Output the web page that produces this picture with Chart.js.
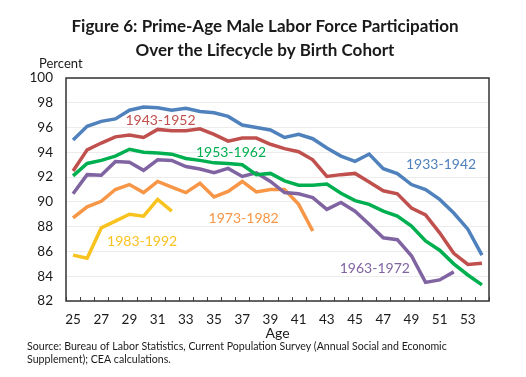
<!DOCTYPE html>
<html>
<head>
<meta charset="utf-8">
<script src="https://cdn.jsdelivr.net/npm/chart.js@4/dist/chart.umd.min.js"></script>
<style>
  body { margin: 0; background: #fff; }
  #wrap { position: relative; width: 526px; height: 377px; }
</style>
</head>
<body>
<div id="wrap"><canvas id="myChart"></canvas></div>
<script>
// ages on the x axis
const ages = [25, 26, 27, 28, 29, 30, 31, 32, 33, 34, 35, 36, 37, 38, 39,
  40, 41, 42, 43, 44, 45, 46, 47, 48, 49, 50, 51, 52, 53, 54];

// participation rate by birth cohort (percent)
const c1933 = [95.0, 96.1, 96.5, 96.7, 97.4, 97.65, 97.6, 97.4, 97.55, 97.3,
  97.2, 96.9, 96.2, 96.0, 95.8, 95.2, 95.45, 95.1, 94.35, 93.7,
  93.27, 93.86, 92.68, 92.28, 91.4, 91.0, 90.2, 89.1, 87.8, 85.7];
const c1943 = [92.5, 94.2, 94.75, 95.25, 95.4, 95.2, 95.85, 95.75, 95.75, 95.9,
  95.45, 94.9, 95.15, 95.15, 94.65, 94.3, 94.05, 93.4, 92.05, 92.2,
  92.3, 91.6, 90.9, 90.65, 89.5, 88.95, 87.5, 85.85, 84.95, 85.05];
const c1953 = [92.1, 93.1, 93.35, 93.7, 94.25, 94.0, 93.95, 93.85, 93.5, 93.35,
  93.15, 93.1, 93.0, 92.2, 92.3, 91.7, 91.35, 91.35, 91.45, 90.7,
  90.1, 89.8, 89.25, 88.85, 88.05, 86.85, 86.1, 85.0, 84.1, 83.3];
const c1963 = [90.65, 92.2, 92.15, 93.25, 93.2, 92.55, 93.4, 93.35, 92.85, 92.65,
  92.35, 92.7, 92.05, 92.35, 91.65, 90.75, 90.65, 90.35, 89.4, 89.95,
  89.25, 88.2, 87.1, 86.95, 85.65, 83.5, 83.7, 84.35];
const c1973 = [88.7, 89.6, 90.05, 91.0, 91.4, 90.75, 91.65, 91.2, 90.75, 91.5,
  90.4, 90.85, 91.65, 90.8, 91.0, 91.0, 89.8, 87.65];
const c1983 = [85.7, 85.45, 87.9, 88.45, 89.0, 88.85, 90.2, 89.25];

const cohortNames = ["1933-1942", "1943-1952", "1953-1962", "1963-1972", "1973-1982", "1983-1992"];
const colors = ["#4F81BD", "#C0504D", "#00B050", "#8064A2", "#F79646", "#F9C31F"];
const series = [c1933, c1943, c1953, c1963, c1973, c1983];

// where each cohort label is centred (age, percent)
const labelSpots = [
  [51.1, 93.0], [31.2, 96.6], [36.2, 93.95], [46.4, 84.6], [37.1, 88.7], [29.9, 86.8]
];

const FONT = "Lato, 'Open Sans', sans-serif";
const ink = "#1a1a1a";

const decorPlugin = {
  id: "decor",
  beforeDatasetsDraw(chart) {
    const { ctx, chartArea: a, scales } = chart;
    const x = scales.x;
    ctx.save();
    // inward tick marks at category boundaries
    ctx.strokeStyle = "#404040";
    ctx.lineWidth = 1;
    for (let i = 0; i <= ages.length; i++) {
      const px = Math.round(x.getPixelForValue(i - 0.5)) + 0.5;
      ctx.beginPath();
      ctx.moveTo(px, a.bottom);
      ctx.lineTo(px, a.bottom - 4);
      ctx.stroke();
    }
    // plot frame
    ctx.strokeStyle = "#333";
    ctx.lineWidth = 1.5;
    ctx.strokeRect(a.left, a.top, a.right - a.left, a.bottom - a.top);
    ctx.restore();
  },
  afterDraw(chart) {
    const { ctx, chartArea: a, scales } = chart;
    ctx.save();
    // title
    ctx.fillStyle = ink;
    ctx.textAlign = "center";
    ctx.textBaseline = "middle";
    ctx.font = "bold 17px " + FONT;
    ctx.fillText("Figure 6: Prime-Age Male Labor Force Participation", 265, 27);
    ctx.fillText("Over the Lifecycle by Birth Cohort", 265, 51);
    // axis captions
    ctx.font = "13px " + FONT;
    ctx.textAlign = "left";
    ctx.fillText("Percent", 39, 64);
    ctx.textAlign = "center";
    ctx.font = "14px " + FONT;
    ctx.fillText("Age", (a.left + a.right) / 2, 333);
    // source note
    ctx.textAlign = "left";
    ctx.font = "10.6px " + FONT;
    ctx.fillText("Source: Bureau of Labor Statistics, Current Population Survey (Annual Social and Economic", 27, 347);
    ctx.fillText("Supplement); CEA calculations.", 27, 360);
    // cohort labels
    ctx.textAlign = "center";
    ctx.font = "14px " + FONT;
    labelSpots.forEach(([age, val], i) => {
      ctx.fillStyle = colors[i];
      const px = scales.x.getPixelForValue(age - ages[0]);
      ctx.fillText(cohortNames[i], px, scales.y.getPixelForValue(val));
    });
    ctx.restore();
  }
};

new Chart(document.getElementById("myChart"), {
  type: "line",
  data: {
    labels: ages,
    datasets: series.map((s, i) => ({
      label: cohortNames[i],
      data: s,
      borderColor: colors[i],
      backgroundColor: colors[i],
      borderWidth: 3.5,
      pointRadius: 0,
      tension: 0,
      fill: false,
    })),
  },
  options: {
    responsive: true,
    maintainAspectRatio: false,
    animation: false,
    layout: { padding: { top: 78, right: 37, bottom: 31, left: 0 } },
    plugins: {
      legend: { display: false },
      tooltip: { enabled: false },
    },
    scales: {
      x: {
        type: "category",
        offset: true,
        grid: { display: false, drawTicks: false },
        border: { display: false },
        ticks: {
          autoSkip: false,
          maxRotation: 0,
          padding: 11,
          color: ink,
          font: { size: 13.5, family: FONT },
          callback: (v, i) => (i % 2 === 0 ? ages[i] : ""),
        },
        afterFit: (scale) => { scale.height = 45; },
      },
      y: {
        min: 82,
        max: 100,
        grid: { color: "#ECECEC", lineWidth: 1, drawTicks: false },
        border: { display: false },
        ticks: {
          stepSize: 2,
          padding: 13,
          color: ink,
          font: { size: 13.5, family: FONT },
        },
        afterFit: (scale) => { scale.width = 66; },
      },
    },
  },
  plugins: [decorPlugin],
});
</script>
</body>
</html>
